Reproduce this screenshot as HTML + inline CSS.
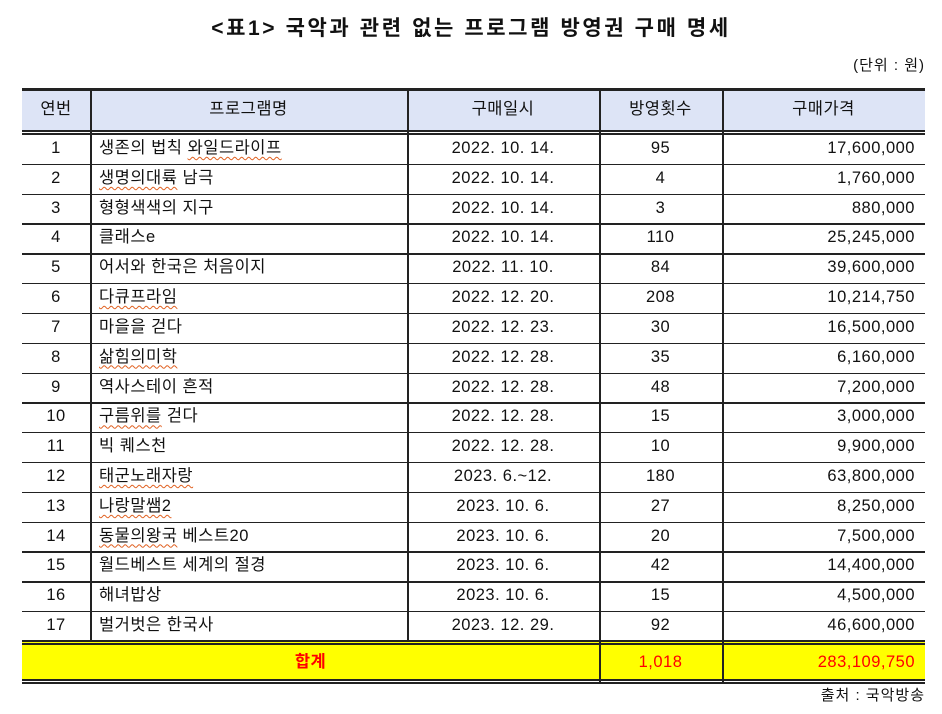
<!DOCTYPE html>
<html><head><meta charset="utf-8"><style>
body{margin:0;width:942px;height:714px;background:#fff;position:relative;overflow:hidden;font-family:"Liberation Sans","Noto Sans CJK KR",sans-serif;color:#111}
.t{position:absolute;white-space:nowrap}
.title{left:0;width:942px;top:12px;text-align:center;font-size:21px;font-weight:bold;letter-spacing:2.6px}
.unit{right:17px;top:54px;font-size:15px;letter-spacing:1px}
.src{right:17px;top:684px;font-size:15px;letter-spacing:1px}
.tbl{position:absolute;left:22px;top:88px;width:903px}
.hl{position:absolute;left:0;width:903px;background:#222}
.vl{position:absolute;width:1.5px;background:#222}
.cell{position:absolute;font-size:16.5px;line-height:29.8px;white-space:nowrap;letter-spacing:0.5px}
.w{text-decoration:underline wavy #e06020;text-decoration-thickness:1px;text-underline-offset:3px}
</style></head><body>
<div class="t title">&lt;표1&gt; 국악과 관련 없는 프로그램 방영권 구매 명세</div>
<div class="t unit">(단위 : 원)</div>
<div class="tbl" id="tb">
<div style="position:absolute;left:0;top:0;width:903px;height:43px;background:#dde4f6"></div>
<div style="position:absolute;left:0;top:554px;width:903px;height:38px;background:#ffff00"></div>
</div>
<div class="t src">출처 : 국악방송</div>
<script>
var tb=document.getElementById('tb');
var cols=[0,68,385,577,700,903];
var rows=[["1","생존의 법칙 <span class=w>와일드라이프</span>","2022. 10. 14.","95","17,600,000"],
["2","<span class=w>생명의대륙</span> 남극","2022. 10. 14.","4","1,760,000"],
["3","형형색색의 지구","2022. 10. 14.","3","880,000"],
["4","클래스e","2022. 10. 14.","110","25,245,000"],
["5","어서와 한국은 처음이지","2022. 11. 10.","84","39,600,000"],
["6","<span class=w>다큐프라임</span>","2022. 12. 20.","208","10,214,750"],
["7","마을을 걷다","2022. 12. 23.","30","16,500,000"],
["8","<span class=w>삶힘의미학</span>","2022. 12. 28.","35","6,160,000"],
["9","역사스테이 흔적","2022. 12. 28.","48","7,200,000"],
["10","<span class=w>구름위를</span> 걷다","2022. 12. 28.","15","3,000,000"],
["11","빅 퀘스천","2022. 12. 28.","10","9,900,000"],
["12","<span class=w>태군노래자랑</span>","2023. 6.~12.","180","63,800,000"],
["13","<span class=w>나랑말쌤2</span>","2023. 10. 6.","27","8,250,000"],
["14","<span class=w>동물의왕국</span> 베스트20","2023. 10. 6.","20","7,500,000"],
["15","월드베스트 세계의 절경","2023. 10. 6.","42","14,400,000"],
["16","해녀밥상","2023. 10. 6.","15","4,500,000"],
["17","벌거벗은 한국사","2023. 12. 29.","92","46,600,000"]];
var h='';
function hl(y,t){h+='<div class="hl" style="top:'+y+'px;height:'+t+'px"></div>';}
hl(0,2.5);hl(42,1.5);hl(45,1.5);
var rh=29.82,y0=46;
for(var i=1;i<17;i++)hl(y0+i*rh,1.3);
hl(552,1.5);hl(555,1.5);hl(591,1.5);hl(594,1.5);
for(var c=1;c<5;c++){var bot=(c<=2)?553:594;
 h+='<div class="vl" style="left:'+cols[c]+'px;top:0;height:'+bot+'px"></div>';}
function cell(x0,x1,y,hgt,txt,al,st){var pad=al=='left'?'padding-left:9px;':(al=='right'?'padding-right:10px;':'');
 h+='<div class="cell" style="left:'+x0+'px;width:'+(x1-x0)+'px;top:'+y+'px;line-height:'+hgt+'px;text-align:'+al+';box-sizing:border-box;'+pad+(st||'')+'">'+txt+'</div>';}
var hd=["연번","프로그램명","구매일시","방영횟수","구매가격"];
for(var c=0;c<5;c++)cell(cols[c],cols[c+1],0,43,hd[c],'center');
for(var r=0;r<17;r++){var y=y0+r*rh;
 cell(0,68,y,rh,rows[r][0],'center');cell(68,385,y,rh,rows[r][1],'left');
 cell(385,577,y,rh,rows[r][2],'center');cell(577,700,y,rh,rows[r][3],'center');cell(700,903,y,rh,rows[r][4],'right');}
cell(0,577,555,38,'합계','center','color:#f00;font-weight:bold');
cell(577,700,555,38,'1,018','center','color:#f00');
cell(700,903,555,38,'283,109,750','right','color:#f00');
tb.innerHTML+=h;
</script>
</body></html>
